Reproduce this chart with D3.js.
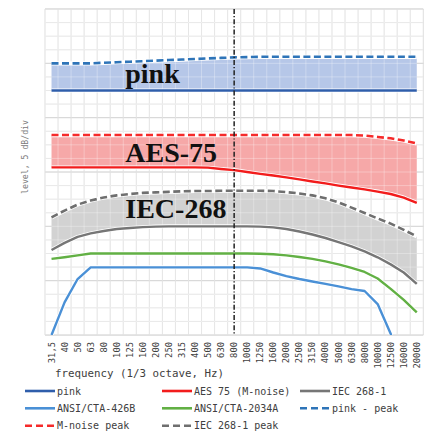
<!DOCTYPE html>
<html><head><meta charset="utf-8">
<script src="https://cdn.jsdelivr.net/npm/d3@7"></script>
<style>html,body{margin:0;padding:0;background:#fff;}svg{display:block;}</style>
</head><body>
<script>
const freqLabels = ["31,5","40","50","63","80","100","125","160","200","250","315","400","500","630","800","1000","1250","1600","2000","2500","3150","4000","5000","6300","8000","10000","12500","16000","20000"];
const pink = [-30,-30,-30,-30,-30,-30,-30,-30,-30,-30,-30,-30,-30,-30,-30,-30,-30,-30,-30,-30,-30,-30,-30,-30,-30,-30,-30,-30,-30];
const pinkPeak = [-20,-20,-20,-20,-19.8,-19.6,-19.4,-19.2,-19.0,-18.8,-18.6,-18.4,-18.2,-18.0,-17.8,-17.7,-17.6,-17.6,-17.6,-17.6,-17.6,-17.6,-17.6,-17.6,-17.6,-17.6,-17.6,-17.6,-17.6];
const aes75 = [-58.3,-58.3,-58.3,-58.3,-58.3,-58.3,-58.3,-58.3,-58.3,-58.3,-58.3,-58.3,-58.4,-58.9,-59.3,-60.0,-60.7,-61.3,-62.0,-62.7,-63.5,-64.2,-65.0,-65.7,-66.4,-67.2,-68.1,-69.4,-71.4];
const mNoisePeak = [-46.4,-46.4,-46.4,-46.4,-46.4,-46.4,-46.4,-46.4,-46.4,-46.4,-46.4,-46.4,-46.4,-46.4,-46.4,-46.4,-46.4,-46.4,-46.4,-46.4,-46.4,-46.4,-46.4,-46.4,-46.6,-47.1,-47.6,-48.4,-49.5];
const iec268 = [-88.7,-86.1,-83.9,-82.6,-81.7,-81.0,-80.6,-80.3,-80.1,-80,-80,-80,-80,-80,-80,-80,-80.1,-80.4,-81.0,-81.9,-83.0,-84.3,-85.8,-87.4,-89.2,-91.4,-94.0,-97.0,-101.2];
const iecPeak = [-76.7,-74.2,-72.0,-70.5,-69.4,-68.6,-68.1,-67.7,-67.5,-67.3,-67.1,-67.0,-67.0,-66.9,-66.9,-66.9,-66.9,-67.0,-67.4,-67.9,-68.6,-69.7,-71.2,-73.1,-75.1,-77.1,-79.0,-81.3,-83.7];
const cta2034 = [-92.0,-91.4,-90.7,-90,-90,-90,-90,-90,-90,-90,-90,-90,-90,-90,-90,-90,-90.1,-90.3,-90.7,-91.3,-92.0,-92.9,-94.0,-95.3,-96.8,-99.2,-103.0,-107.1,-111.7];
const cta426 = [-120,-108,-99.4,-95.1,-95.1,-95.1,-95.1,-95.1,-95.1,-95.1,-95.1,-95.1,-95.1,-95.1,-95.1,-95.1,-95.5,-97.0,-98.3,-99.4,-100.3,-101.2,-102.1,-103.1,-103.8,-108.6,-119.5,-140,-160];
const yTicks = d3.range(-120, 1, 5);
const markerFreq = "800";

const W = 432, H = 433;
const L = 45, R = 423.3, T = 9, B = 335;
const svg = d3.select("body").append("svg").attr("width", W).attr("height", H);

const x = d3.scaleBand().domain(freqLabels).range([L, R]).padding(0);
const y = d3.scaleLinear().domain([-120, 0]).range([B, T]);
const cx = d => x(d) + x.bandwidth() / 2;

svg.append("defs").append("clipPath").attr("id", "plot")
  .append("rect").attr("x", L).attr("y", T).attr("width", R - L).attr("height", B - T);

// grid
const grid = svg.append("g");
const vEdges = freqLabels.map(d => x(d)).concat([R]);
grid.selectAll("line.v").data(vEdges).join("line")
  .attr("x1", d => d).attr("x2", d => d).attr("y1", T).attr("y2", B)
  .attr("stroke", "#DCDCDC").attr("stroke-width", 1);
grid.selectAll("line.h").data(yTicks).join("line")
  .attr("x1", L).attr("x2", R).attr("y1", d => y(d)).attr("y2", d => y(d))
  .attr("stroke", d => d % 20 === 0 ? "#C4C4C4" : "#E0E0E0").attr("stroke-width", 1);

const plot = svg.append("g").attr("clip-path", "url(#plot)");

function band(lo, hi, fill) {
  const data = freqLabels.map((f, i) => ({f, lo: lo[i], hi: hi[i]}));
  plot.append("path").datum(data)
    .attr("d", d3.area().x(d => cx(d.f)).y0(d => y(d.lo)).y1(d => y(d.hi)))
    .attr("fill", fill);
}
band(pink, pinkPeak, "#B6C7E8");
band(aes75, mNoisePeak, "#F6A8A8");
band(iec268, iecPeak, "#D2D2D2");

// light grid seen through the fills
const grid2 = plot.append("g");
grid2.selectAll("line").data(vEdges).join("line")
  .attr("x1", d => d).attr("x2", d => d).attr("y1", T).attr("y2", B)
  .attr("stroke", "#fff").attr("stroke-opacity", 0.3);
grid2.selectAll("line.h").data(yTicks).join("line")
  .attr("x1", L).attr("x2", R).attr("y1", d => y(d)).attr("y2", d => y(d))
  .attr("stroke", "#fff").attr("stroke-opacity", 0.3);

function line(vals, color, dashed, width) {
  const data = freqLabels.map((f, i) => ({f, v: vals[i]}));
  const gen = d3.line().x(d => cx(d.f)).y(d => y(d.v));
  plot.append("path").datum(data).attr("d", gen)
    .attr("fill", "none").attr("stroke", "#fff").attr("stroke-width", width + 1.6)
    .attr("stroke-linejoin", "round");
  plot.append("path").datum(data).attr("d", gen)
    .attr("fill", "none").attr("stroke", color).attr("stroke-width", width)
    .attr("stroke-linejoin", "round")
    .attr("stroke-dasharray", dashed ? "7,3.5" : null);
}
const C = {
  pink: "#2F5EAB", pinkPeak: "#2E74B8", aes: "#F21C1C", mpeak: "#F52A2A",
  iec: "#767676", iecPeak: "#6F6F6F", green: "#62B044", lblue: "#4A90D6"
};
line(cta426, C.lblue, false, 2.4);
line(cta2034, C.green, false, 2.4);
line(iec268, C.iec, false, 2.4);
line(iecPeak, C.iecPeak, true, 2.6);
line(aes75, C.aes, false, 2.4);
line(mNoisePeak, C.mpeak, true, 2.6);
line(pink, C.pink, false, 2.4);
line(pinkPeak, C.pinkPeak, true, 2.6);

// 800 Hz marker
svg.append("line").attr("x1", cx(markerFreq)).attr("x2", cx(markerFreq))
  .attr("y1", T).attr("y2", B)
  .attr("stroke", "#222").attr("stroke-width", 1.5).attr("stroke-dasharray", "5,2,1.2,2");

// band labels
const bandLabels = [["pink", -27.3], ["AES-75", -56.3], ["IEC-268", -76.9]];
svg.selectAll("text.band").data(bandLabels).join("text")
  .attr("x", x(freqLabels[6]) + 2).attr("y", d => y(d[1]))
  .attr("font-family", "'Liberation Serif', serif").attr("font-weight", "bold")
  .attr("font-size", 28).attr("fill", "#111").text(d => d[0]);

// x tick labels
const mono = "'DejaVu Sans Mono', 'Liberation Mono', monospace";
svg.selectAll("text.xt").data(freqLabels).join("text")
  .attr("transform", d => `translate(${cx(d) + 3},342) rotate(-90)`)
  .attr("text-anchor", "end").attr("font-family", mono).attr("font-size", 8.8)
  .attr("fill", "#404040").text(d => d);

svg.append("text").attr("x", 55).attr("y", 377).attr("font-family", mono)
  .attr("font-size", 10.8).attr("fill", "#404040").text("frequency (1/3 octave, Hz)");

svg.append("text").attr("transform", "translate(28,157) rotate(-90)")
  .attr("text-anchor", "middle").attr("font-family", mono).attr("font-size", 8.2)
  .attr("fill", "#7a7a7a").text("level, 5 dB/div");

// legend
const legendItems = [
  ["pink", C.pink, false, 25, 391], ["AES 75 (M-noise)", C.aes, false, 162, 391], ["IEC 268-1", C.iec, false, 300, 391],
  ["ANSI/CTA-426B", C.lblue, false, 25, 408.3], ["ANSI/CTA-2034A", C.green, false, 162, 408.3], ["pink - peak", C.pinkPeak, true, 300, 408.3],
  ["M-noise peak", C.mpeak, true, 25, 425.7], ["IEC 268-1 peak", C.iecPeak, true, 162, 425.7]
];
const lg = svg.selectAll("g.lg").data(legendItems).join("g");
lg.append("line").attr("x1", d => d[3]).attr("x2", d => d[3] + 30)
  .attr("y1", d => d[4]).attr("y2", d => d[4])
  .attr("stroke", d => d[1]).attr("stroke-width", 2.6)
  .attr("stroke-dasharray", d => d[2] ? "7,4" : null);
lg.append("text").attr("x", d => d[3] + 32).attr("y", d => d[4] + 3.5)
  .attr("font-family", mono).attr("font-size", 10).attr("fill", "#404040").text(d => d[0]);
</script>
</body></html>
